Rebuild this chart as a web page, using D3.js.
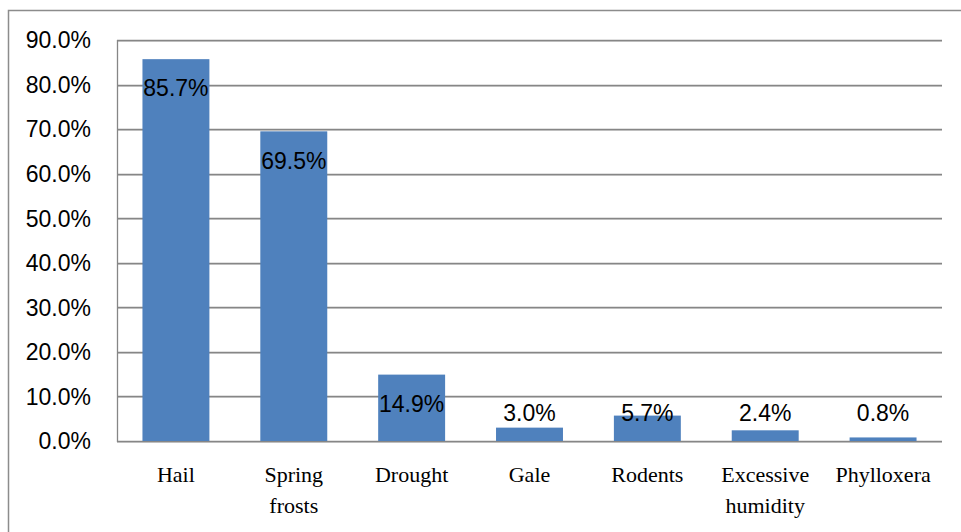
<!DOCTYPE html>
<html>
<head>
<meta charset="utf-8">
<script src="https://cdn.jsdelivr.net/npm/d3@7"></script>
<style>
  body { margin: 0; background: #fff; }
  .tick-label, .bar-label { font-family: "Liberation Sans", Arial, sans-serif; font-size: 23px; fill: #000; }
  .cat-label { font-family: "Liberation Serif", "Times New Roman", serif; font-size: 22px; fill: #000; }
</style>
</head>
<body>
<div id="chart"></div>
<script>
// chart values
const categories = [["Hail"], ["Spring", "frosts"], ["Drought"], ["Gale"], ["Rodents"], ["Excessive", "humidity"], ["Phylloxera"]];
const values = [0.857, 0.695, 0.149, 0.030, 0.057, 0.024, 0.008];
const yTicks = [0, 0.1, 0.2, 0.3, 0.4, 0.5, 0.6, 0.7, 0.8, 0.9];

const W = 961, H = 532;
const plot = {left: 117, right: 942, top: 40, bottom: 441};

const svg = d3.select("#chart").append("svg")
    .attr("width", W)
    .attr("height", H);

// outer chart border (runs off the right and bottom edge)
svg.append("rect")
  .attr("x", 8.5).attr("y", 10.5)
  .attr("width", W + 20).attr("height", H + 20)
  .attr("fill", "none")
  .attr("stroke", "#8c8c8c")
  .attr("stroke-width", 1.5);

const x = d3.scaleBand()
  .domain(categories.map(d => d.join(" ")))
  .range([plot.left, plot.right])
  .paddingInner(0.432)
  .paddingOuter(0.216);

const y = d3.scaleLinear()
  .domain([0, 0.9])
  .range([plot.bottom, plot.top]);

const fmt = d3.format(".1%");

// gridlines with a faint shadow under each one
const grid = svg.append("g");
grid.selectAll(".shadow")
  .data(yTicks)
  .join("line")
  .attr("x1", plot.left).attr("x2", plot.right)
  .attr("y1", d => Math.round(y(d)) + 1.5).attr("y2", d => Math.round(y(d)) + 1.5)
  .attr("stroke", "#d0d0d0").attr("stroke-width", 1);
grid.selectAll(".gl")
  .data(yTicks)
  .join("line")
  .attr("x1", plot.left).attr("x2", plot.right)
  .attr("y1", d => Math.round(y(d)) + 0.5).attr("y2", d => Math.round(y(d)) + 0.5)
  .attr("stroke", "#868686").attr("stroke-width", 1.3);

// y axis line
svg.append("line")
  .attr("x1", plot.left + 0.5).attr("x2", plot.left + 0.5)
  .attr("y1", plot.top).attr("y2", plot.bottom + 1)
  .attr("stroke", "#868686").attr("stroke-width", 1.3);

// y tick labels
svg.selectAll(".tick-label")
  .data(yTicks)
  .join("text")
  .attr("class", "tick-label")
  .attr("x", plot.left - 26)
  .attr("y", d => y(d))
  .attr("dy", "0.36em")
  .attr("text-anchor", "end")
  .text(d => fmt(d));

// bars
svg.selectAll(".bar")
  .data(values)
  .join("rect")
  .attr("class", "bar")
  .attr("x", (d, i) => x(categories[i].join(" ")))
  .attr("y", d => y(d))
  .attr("width", x.bandwidth())
  .attr("height", d => plot.bottom - y(d))
  .attr("fill", "#4f81bd");

// data labels: just under the top of tall bars, sitting above the short ones
svg.selectAll(".bar-label")
  .data(values)
  .join("text")
  .attr("class", "bar-label")
  .attr("x", (d, i) => x(categories[i].join(" ")) + x.bandwidth() / 2)
  .attr("y", d => Math.min(y(d) + 29, 413))
  .attr("dy", "0.36em")
  .attr("text-anchor", "middle")
  .text(d => fmt(d));

// category labels
const cats = svg.selectAll(".cat-label")
  .data(categories)
  .join("text")
  .attr("class", "cat-label")
  .attr("text-anchor", "middle")
  .attr("x", d => x(d.join(" ")) + x.bandwidth() / 2)
  .attr("y", 482);
cats.selectAll("tspan")
  .data(d => d)
  .join("tspan")
  .attr("x", function () { return this.parentNode.getAttribute("x"); })
  .attr("dy", (d, i) => i === 0 ? 0 : 31)
  .text(d => d);
</script>
</body>
</html>
